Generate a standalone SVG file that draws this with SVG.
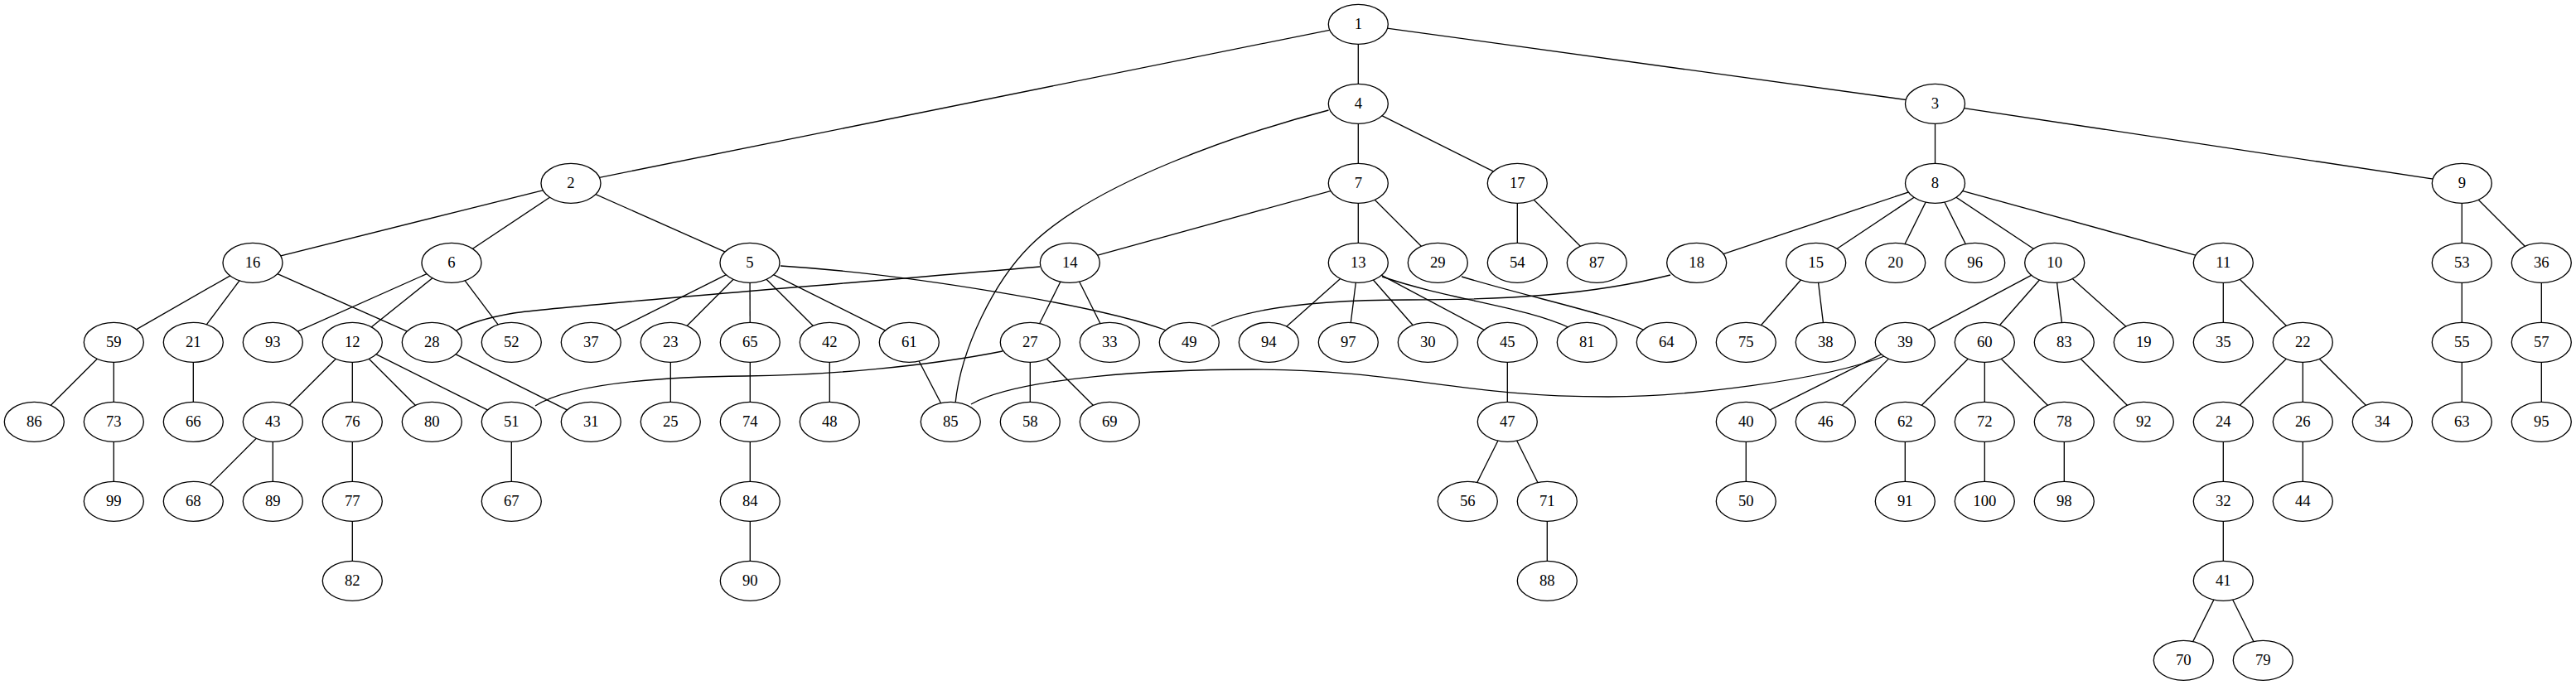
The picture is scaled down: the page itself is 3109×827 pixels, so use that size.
<svg xmlns="http://www.w3.org/2000/svg" width="3109" height="827" viewBox="0 0 3109 827">
<style>
.e{stroke:#000;stroke-width:1.33;fill:none}
.n ellipse{fill:#fff;stroke:#000;stroke-width:1.33}
.n text{font-family:"Liberation Serif","Times New Roman",serif;font-size:18.67px;text-anchor:middle;fill:#000}
</style>
<rect width="3109" height="827" fill="#fff"/>
<g id="edges" class="e">
<line x1="1639.3" y1="29.3" x2="689" y2="221.3"/>
<line x1="1639.3" y1="29.3" x2="1639.3" y2="125.3"/>
<line x1="1639.3" y1="29.3" x2="2335.5" y2="125.3"/>
<path d="M1603.5,133 C1500,160 1320,220 1243,297 C1200,340 1160,420 1153,487"/>
<line x1="1639.3" y1="125.3" x2="1639.3" y2="221.3"/>
<line x1="1639.3" y1="125.3" x2="1831.3" y2="221.3"/>
<line x1="689" y1="221.3" x2="305" y2="317.3"/>
<line x1="689" y1="221.3" x2="545" y2="317.3"/>
<line x1="689" y1="221.3" x2="905" y2="317.3"/>
<line x1="1639.3" y1="221.3" x2="1291.3" y2="317.3"/>
<line x1="1639.3" y1="221.3" x2="1639.3" y2="317.3"/>
<line x1="1639.3" y1="221.3" x2="1735.3" y2="317.3"/>
<line x1="1831.3" y1="221.3" x2="1831.3" y2="317.3"/>
<line x1="1831.3" y1="221.3" x2="1927.3" y2="317.3"/>
<line x1="2335.5" y1="125.3" x2="2335.5" y2="221.3"/>
<line x1="2335.5" y1="125.3" x2="2971.3" y2="221.3"/>
<line x1="2335.5" y1="221.3" x2="2047.7" y2="317.3"/>
<line x1="2335.5" y1="221.3" x2="2191.7" y2="317.3"/>
<line x1="2335.5" y1="221.3" x2="2287.7" y2="317.3"/>
<line x1="2335.5" y1="221.3" x2="2383.7" y2="317.3"/>
<line x1="2335.5" y1="221.3" x2="2479.7" y2="317.3"/>
<line x1="2335.5" y1="221.3" x2="2683.3" y2="317.3"/>
<line x1="2971.3" y1="221.3" x2="2971.3" y2="317.3"/>
<line x1="2971.3" y1="221.3" x2="3067.3" y2="317.3"/>
<line x1="305" y1="317.3" x2="137.3" y2="413.3"/>
<line x1="305" y1="317.3" x2="233.3" y2="413.3"/>
<line x1="305" y1="317.3" x2="521.3" y2="413.3"/>
<line x1="545" y1="317.3" x2="329.3" y2="413.3"/>
<line x1="545" y1="317.3" x2="425.3" y2="413.3"/>
<line x1="545" y1="317.3" x2="617.3" y2="413.3"/>
<line x1="905" y1="317.3" x2="713.3" y2="413.3"/>
<line x1="905" y1="317.3" x2="809.3" y2="413.3"/>
<line x1="905" y1="317.3" x2="905.3" y2="413.3"/>
<line x1="905" y1="317.3" x2="1001.3" y2="413.3"/>
<line x1="905" y1="317.3" x2="1097.3" y2="413.3"/>
<path d="M942,321 C1100,331 1330,370 1408,399"/>
<path d="M1255,322 C1050,340 690,368 620,378 C585,384 562,392 549,400"/>
<line x1="1291.3" y1="317.3" x2="1243.3" y2="413.3"/>
<line x1="1291.3" y1="317.3" x2="1339.3" y2="413.3"/>
<line x1="1639.3" y1="317.3" x2="1531.3" y2="413.3"/>
<line x1="1639.3" y1="317.3" x2="1627.3" y2="413.3"/>
<line x1="1639.3" y1="317.3" x2="1723.3" y2="413.3"/>
<line x1="1639.3" y1="317.3" x2="1819.3" y2="413.3"/>
<path d="M1668,334 C1750,362 1840,370 1895,396"/>
<path d="M1764,334 C1850,360 1940,378 1985,399"/>
<path d="M2016,332 C1920,356 1820,362 1700,362 C1600,362 1510,370 1462,394"/>
<line x1="2191.7" y1="317.3" x2="2107.3" y2="413.3"/>
<line x1="2191.7" y1="317.3" x2="2203.3" y2="413.3"/>
<line x1="2479.7" y1="317.3" x2="2299.3" y2="413.3"/>
<line x1="2479.7" y1="317.3" x2="2395.3" y2="413.3"/>
<line x1="2479.7" y1="317.3" x2="2491.3" y2="413.3"/>
<line x1="2479.7" y1="317.3" x2="2587.3" y2="413.3"/>
<line x1="2683.3" y1="317.3" x2="2683.3" y2="413.3"/>
<line x1="2683.3" y1="317.3" x2="2779.3" y2="413.3"/>
<line x1="2971.3" y1="317.3" x2="2971.3" y2="413.3"/>
<line x1="3067.3" y1="317.3" x2="3067.3" y2="413.3"/>
<line x1="137.3" y1="413.3" x2="41.3" y2="509.3"/>
<line x1="137.3" y1="413.3" x2="137.3" y2="509.3"/>
<line x1="233.3" y1="413.3" x2="233.3" y2="509.3"/>
<line x1="425.3" y1="413.3" x2="329.3" y2="509.3"/>
<line x1="425.3" y1="413.3" x2="425.3" y2="509.3"/>
<line x1="425.3" y1="413.3" x2="521.3" y2="509.3"/>
<line x1="425.3" y1="413.3" x2="617.3" y2="509.3"/>
<line x1="521.3" y1="413.3" x2="713.3" y2="509.3"/>
<line x1="809.3" y1="413.3" x2="809.3" y2="509.3"/>
<line x1="905.3" y1="413.3" x2="905.3" y2="509.3"/>
<line x1="1001.3" y1="413.3" x2="1001.3" y2="509.3"/>
<line x1="1097.3" y1="413.3" x2="1147.3" y2="509.3"/>
<path d="M1210,424 C1120,442 1000,453 900,454 C800,455 690,462 646,490"/>
<line x1="1243.3" y1="413.3" x2="1243.3" y2="509.3"/>
<line x1="1243.3" y1="413.3" x2="1339.3" y2="509.3"/>
<line x1="1819.3" y1="413.3" x2="1819.3" y2="509.3"/>
<path d="M2277,429 C2200,460 2030,479 1941,479 C1760,479 1690,446 1512,446 C1400,446 1230,455 1172,488"/>
<line x1="2299.3" y1="413.3" x2="2107.3" y2="509.3"/>
<line x1="2299.3" y1="413.3" x2="2203.3" y2="509.3"/>
<line x1="2395.3" y1="413.3" x2="2299.3" y2="509.3"/>
<line x1="2395.3" y1="413.3" x2="2395.3" y2="509.3"/>
<line x1="2395.3" y1="413.3" x2="2491.3" y2="509.3"/>
<line x1="2491.3" y1="413.3" x2="2587.3" y2="509.3"/>
<line x1="2779.3" y1="413.3" x2="2683.3" y2="509.3"/>
<line x1="2779.3" y1="413.3" x2="2779.3" y2="509.3"/>
<line x1="2779.3" y1="413.3" x2="2875.3" y2="509.3"/>
<line x1="2971.3" y1="413.3" x2="2971.3" y2="509.3"/>
<line x1="3067.3" y1="413.3" x2="3067.3" y2="509.3"/>
<line x1="137.3" y1="509.3" x2="137.3" y2="605.3"/>
<line x1="329.3" y1="509.3" x2="233.3" y2="605.3"/>
<line x1="329.3" y1="509.3" x2="329.3" y2="605.3"/>
<line x1="425.3" y1="509.3" x2="425.3" y2="605.3"/>
<line x1="617.3" y1="509.3" x2="617.3" y2="605.3"/>
<line x1="905.3" y1="509.3" x2="905.3" y2="605.3"/>
<line x1="1819.3" y1="509.3" x2="1771.3" y2="605.3"/>
<line x1="1819.3" y1="509.3" x2="1867.3" y2="605.3"/>
<line x1="2107.3" y1="509.3" x2="2107.3" y2="605.3"/>
<line x1="2299.3" y1="509.3" x2="2299.3" y2="605.3"/>
<line x1="2395.3" y1="509.3" x2="2395.3" y2="605.3"/>
<line x1="2491.3" y1="509.3" x2="2491.3" y2="605.3"/>
<line x1="2683.3" y1="509.3" x2="2683.3" y2="605.3"/>
<line x1="2779.3" y1="509.3" x2="2779.3" y2="605.3"/>
<line x1="425.3" y1="605.3" x2="425.3" y2="701.3"/>
<line x1="905.3" y1="605.3" x2="905.3" y2="701.3"/>
<line x1="1867.3" y1="605.3" x2="1867.3" y2="701.3"/>
<line x1="2683.3" y1="605.3" x2="2683.3" y2="701.3"/>
<line x1="2683.3" y1="701.3" x2="2635.3" y2="797.3"/>
<line x1="2683.3" y1="701.3" x2="2731.3" y2="797.3"/>
</g>
<g class="n">
<g id="node_1"><ellipse cx="1639.3" cy="29.3" rx="36" ry="24"/><text x="1639.3" y="35.3">1</text></g>
<g id="node_4"><ellipse cx="1639.3" cy="125.3" rx="36" ry="24"/><text x="1639.3" y="131.3">4</text></g>
<g id="node_3"><ellipse cx="2335.5" cy="125.3" rx="36" ry="24"/><text x="2335.5" y="131.3">3</text></g>
<g id="node_2"><ellipse cx="689" cy="221.3" rx="36" ry="24"/><text x="689" y="227.3">2</text></g>
<g id="node_7"><ellipse cx="1639.3" cy="221.3" rx="36" ry="24"/><text x="1639.3" y="227.3">7</text></g>
<g id="node_17"><ellipse cx="1831.3" cy="221.3" rx="36" ry="24"/><text x="1831.3" y="227.3">17</text></g>
<g id="node_8"><ellipse cx="2335.5" cy="221.3" rx="36" ry="24"/><text x="2335.5" y="227.3">8</text></g>
<g id="node_9"><ellipse cx="2971.3" cy="221.3" rx="36" ry="24"/><text x="2971.3" y="227.3">9</text></g>
<g id="node_16"><ellipse cx="305" cy="317.3" rx="36" ry="24"/><text x="305" y="323.3">16</text></g>
<g id="node_6"><ellipse cx="545" cy="317.3" rx="36" ry="24"/><text x="545" y="323.3">6</text></g>
<g id="node_5"><ellipse cx="905" cy="317.3" rx="36" ry="24"/><text x="905" y="323.3">5</text></g>
<g id="node_14"><ellipse cx="1291.3" cy="317.3" rx="36" ry="24"/><text x="1291.3" y="323.3">14</text></g>
<g id="node_13"><ellipse cx="1639.3" cy="317.3" rx="36" ry="24"/><text x="1639.3" y="323.3">13</text></g>
<g id="node_29"><ellipse cx="1735.3" cy="317.3" rx="36" ry="24"/><text x="1735.3" y="323.3">29</text></g>
<g id="node_54"><ellipse cx="1831.3" cy="317.3" rx="36" ry="24"/><text x="1831.3" y="323.3">54</text></g>
<g id="node_87"><ellipse cx="1927.3" cy="317.3" rx="36" ry="24"/><text x="1927.3" y="323.3">87</text></g>
<g id="node_18"><ellipse cx="2047.7" cy="317.3" rx="36" ry="24"/><text x="2047.7" y="323.3">18</text></g>
<g id="node_15"><ellipse cx="2191.7" cy="317.3" rx="36" ry="24"/><text x="2191.7" y="323.3">15</text></g>
<g id="node_20"><ellipse cx="2287.7" cy="317.3" rx="36" ry="24"/><text x="2287.7" y="323.3">20</text></g>
<g id="node_96"><ellipse cx="2383.7" cy="317.3" rx="36" ry="24"/><text x="2383.7" y="323.3">96</text></g>
<g id="node_10"><ellipse cx="2479.7" cy="317.3" rx="36" ry="24"/><text x="2479.7" y="323.3">10</text></g>
<g id="node_11"><ellipse cx="2683.3" cy="317.3" rx="36" ry="24"/><text x="2683.3" y="323.3">11</text></g>
<g id="node_53"><ellipse cx="2971.3" cy="317.3" rx="36" ry="24"/><text x="2971.3" y="323.3">53</text></g>
<g id="node_36"><ellipse cx="3067.3" cy="317.3" rx="36" ry="24"/><text x="3067.3" y="323.3">36</text></g>
<g id="node_59"><ellipse cx="137.3" cy="413.3" rx="36" ry="24"/><text x="137.3" y="419.3">59</text></g>
<g id="node_21"><ellipse cx="233.3" cy="413.3" rx="36" ry="24"/><text x="233.3" y="419.3">21</text></g>
<g id="node_93"><ellipse cx="329.3" cy="413.3" rx="36" ry="24"/><text x="329.3" y="419.3">93</text></g>
<g id="node_12"><ellipse cx="425.3" cy="413.3" rx="36" ry="24"/><text x="425.3" y="419.3">12</text></g>
<g id="node_28"><ellipse cx="521.3" cy="413.3" rx="36" ry="24"/><text x="521.3" y="419.3">28</text></g>
<g id="node_52"><ellipse cx="617.3" cy="413.3" rx="36" ry="24"/><text x="617.3" y="419.3">52</text></g>
<g id="node_37"><ellipse cx="713.3" cy="413.3" rx="36" ry="24"/><text x="713.3" y="419.3">37</text></g>
<g id="node_23"><ellipse cx="809.3" cy="413.3" rx="36" ry="24"/><text x="809.3" y="419.3">23</text></g>
<g id="node_65"><ellipse cx="905.3" cy="413.3" rx="36" ry="24"/><text x="905.3" y="419.3">65</text></g>
<g id="node_42"><ellipse cx="1001.3" cy="413.3" rx="36" ry="24"/><text x="1001.3" y="419.3">42</text></g>
<g id="node_61"><ellipse cx="1097.3" cy="413.3" rx="36" ry="24"/><text x="1097.3" y="419.3">61</text></g>
<g id="node_27"><ellipse cx="1243.3" cy="413.3" rx="36" ry="24"/><text x="1243.3" y="419.3">27</text></g>
<g id="node_33"><ellipse cx="1339.3" cy="413.3" rx="36" ry="24"/><text x="1339.3" y="419.3">33</text></g>
<g id="node_49"><ellipse cx="1435.3" cy="413.3" rx="36" ry="24"/><text x="1435.3" y="419.3">49</text></g>
<g id="node_94"><ellipse cx="1531.3" cy="413.3" rx="36" ry="24"/><text x="1531.3" y="419.3">94</text></g>
<g id="node_97"><ellipse cx="1627.3" cy="413.3" rx="36" ry="24"/><text x="1627.3" y="419.3">97</text></g>
<g id="node_30"><ellipse cx="1723.3" cy="413.3" rx="36" ry="24"/><text x="1723.3" y="419.3">30</text></g>
<g id="node_45"><ellipse cx="1819.3" cy="413.3" rx="36" ry="24"/><text x="1819.3" y="419.3">45</text></g>
<g id="node_81"><ellipse cx="1915.3" cy="413.3" rx="36" ry="24"/><text x="1915.3" y="419.3">81</text></g>
<g id="node_64"><ellipse cx="2011.3" cy="413.3" rx="36" ry="24"/><text x="2011.3" y="419.3">64</text></g>
<g id="node_75"><ellipse cx="2107.3" cy="413.3" rx="36" ry="24"/><text x="2107.3" y="419.3">75</text></g>
<g id="node_38"><ellipse cx="2203.3" cy="413.3" rx="36" ry="24"/><text x="2203.3" y="419.3">38</text></g>
<g id="node_39"><ellipse cx="2299.3" cy="413.3" rx="36" ry="24"/><text x="2299.3" y="419.3">39</text></g>
<g id="node_60"><ellipse cx="2395.3" cy="413.3" rx="36" ry="24"/><text x="2395.3" y="419.3">60</text></g>
<g id="node_83"><ellipse cx="2491.3" cy="413.3" rx="36" ry="24"/><text x="2491.3" y="419.3">83</text></g>
<g id="node_19"><ellipse cx="2587.3" cy="413.3" rx="36" ry="24"/><text x="2587.3" y="419.3">19</text></g>
<g id="node_35"><ellipse cx="2683.3" cy="413.3" rx="36" ry="24"/><text x="2683.3" y="419.3">35</text></g>
<g id="node_22"><ellipse cx="2779.3" cy="413.3" rx="36" ry="24"/><text x="2779.3" y="419.3">22</text></g>
<g id="node_55"><ellipse cx="2971.3" cy="413.3" rx="36" ry="24"/><text x="2971.3" y="419.3">55</text></g>
<g id="node_57"><ellipse cx="3067.3" cy="413.3" rx="36" ry="24"/><text x="3067.3" y="419.3">57</text></g>
<g id="node_86"><ellipse cx="41.3" cy="509.3" rx="36" ry="24"/><text x="41.3" y="515.3">86</text></g>
<g id="node_73"><ellipse cx="137.3" cy="509.3" rx="36" ry="24"/><text x="137.3" y="515.3">73</text></g>
<g id="node_66"><ellipse cx="233.3" cy="509.3" rx="36" ry="24"/><text x="233.3" y="515.3">66</text></g>
<g id="node_43"><ellipse cx="329.3" cy="509.3" rx="36" ry="24"/><text x="329.3" y="515.3">43</text></g>
<g id="node_76"><ellipse cx="425.3" cy="509.3" rx="36" ry="24"/><text x="425.3" y="515.3">76</text></g>
<g id="node_80"><ellipse cx="521.3" cy="509.3" rx="36" ry="24"/><text x="521.3" y="515.3">80</text></g>
<g id="node_51"><ellipse cx="617.3" cy="509.3" rx="36" ry="24"/><text x="617.3" y="515.3">51</text></g>
<g id="node_31"><ellipse cx="713.3" cy="509.3" rx="36" ry="24"/><text x="713.3" y="515.3">31</text></g>
<g id="node_25"><ellipse cx="809.3" cy="509.3" rx="36" ry="24"/><text x="809.3" y="515.3">25</text></g>
<g id="node_74"><ellipse cx="905.3" cy="509.3" rx="36" ry="24"/><text x="905.3" y="515.3">74</text></g>
<g id="node_48"><ellipse cx="1001.3" cy="509.3" rx="36" ry="24"/><text x="1001.3" y="515.3">48</text></g>
<g id="node_85"><ellipse cx="1147.3" cy="509.3" rx="36" ry="24"/><text x="1147.3" y="515.3">85</text></g>
<g id="node_58"><ellipse cx="1243.3" cy="509.3" rx="36" ry="24"/><text x="1243.3" y="515.3">58</text></g>
<g id="node_69"><ellipse cx="1339.3" cy="509.3" rx="36" ry="24"/><text x="1339.3" y="515.3">69</text></g>
<g id="node_47"><ellipse cx="1819.3" cy="509.3" rx="36" ry="24"/><text x="1819.3" y="515.3">47</text></g>
<g id="node_40"><ellipse cx="2107.3" cy="509.3" rx="36" ry="24"/><text x="2107.3" y="515.3">40</text></g>
<g id="node_46"><ellipse cx="2203.3" cy="509.3" rx="36" ry="24"/><text x="2203.3" y="515.3">46</text></g>
<g id="node_62"><ellipse cx="2299.3" cy="509.3" rx="36" ry="24"/><text x="2299.3" y="515.3">62</text></g>
<g id="node_72"><ellipse cx="2395.3" cy="509.3" rx="36" ry="24"/><text x="2395.3" y="515.3">72</text></g>
<g id="node_78"><ellipse cx="2491.3" cy="509.3" rx="36" ry="24"/><text x="2491.3" y="515.3">78</text></g>
<g id="node_92"><ellipse cx="2587.3" cy="509.3" rx="36" ry="24"/><text x="2587.3" y="515.3">92</text></g>
<g id="node_24"><ellipse cx="2683.3" cy="509.3" rx="36" ry="24"/><text x="2683.3" y="515.3">24</text></g>
<g id="node_26"><ellipse cx="2779.3" cy="509.3" rx="36" ry="24"/><text x="2779.3" y="515.3">26</text></g>
<g id="node_34"><ellipse cx="2875.3" cy="509.3" rx="36" ry="24"/><text x="2875.3" y="515.3">34</text></g>
<g id="node_63"><ellipse cx="2971.3" cy="509.3" rx="36" ry="24"/><text x="2971.3" y="515.3">63</text></g>
<g id="node_95"><ellipse cx="3067.3" cy="509.3" rx="36" ry="24"/><text x="3067.3" y="515.3">95</text></g>
<g id="node_99"><ellipse cx="137.3" cy="605.3" rx="36" ry="24"/><text x="137.3" y="611.3">99</text></g>
<g id="node_68"><ellipse cx="233.3" cy="605.3" rx="36" ry="24"/><text x="233.3" y="611.3">68</text></g>
<g id="node_89"><ellipse cx="329.3" cy="605.3" rx="36" ry="24"/><text x="329.3" y="611.3">89</text></g>
<g id="node_77"><ellipse cx="425.3" cy="605.3" rx="36" ry="24"/><text x="425.3" y="611.3">77</text></g>
<g id="node_67"><ellipse cx="617.3" cy="605.3" rx="36" ry="24"/><text x="617.3" y="611.3">67</text></g>
<g id="node_84"><ellipse cx="905.3" cy="605.3" rx="36" ry="24"/><text x="905.3" y="611.3">84</text></g>
<g id="node_56"><ellipse cx="1771.3" cy="605.3" rx="36" ry="24"/><text x="1771.3" y="611.3">56</text></g>
<g id="node_71"><ellipse cx="1867.3" cy="605.3" rx="36" ry="24"/><text x="1867.3" y="611.3">71</text></g>
<g id="node_50"><ellipse cx="2107.3" cy="605.3" rx="36" ry="24"/><text x="2107.3" y="611.3">50</text></g>
<g id="node_91"><ellipse cx="2299.3" cy="605.3" rx="36" ry="24"/><text x="2299.3" y="611.3">91</text></g>
<g id="node_100"><ellipse cx="2395.3" cy="605.3" rx="36" ry="24"/><text x="2395.3" y="611.3">100</text></g>
<g id="node_98"><ellipse cx="2491.3" cy="605.3" rx="36" ry="24"/><text x="2491.3" y="611.3">98</text></g>
<g id="node_32"><ellipse cx="2683.3" cy="605.3" rx="36" ry="24"/><text x="2683.3" y="611.3">32</text></g>
<g id="node_44"><ellipse cx="2779.3" cy="605.3" rx="36" ry="24"/><text x="2779.3" y="611.3">44</text></g>
<g id="node_82"><ellipse cx="425.3" cy="701.3" rx="36" ry="24"/><text x="425.3" y="707.3">82</text></g>
<g id="node_90"><ellipse cx="905.3" cy="701.3" rx="36" ry="24"/><text x="905.3" y="707.3">90</text></g>
<g id="node_88"><ellipse cx="1867.3" cy="701.3" rx="36" ry="24"/><text x="1867.3" y="707.3">88</text></g>
<g id="node_41"><ellipse cx="2683.3" cy="701.3" rx="36" ry="24"/><text x="2683.3" y="707.3">41</text></g>
<g id="node_70"><ellipse cx="2635.3" cy="797.3" rx="36" ry="24"/><text x="2635.3" y="803.3">70</text></g>
<g id="node_79"><ellipse cx="2731.3" cy="797.3" rx="36" ry="24"/><text x="2731.3" y="803.3">79</text></g>
</g>
</svg>
